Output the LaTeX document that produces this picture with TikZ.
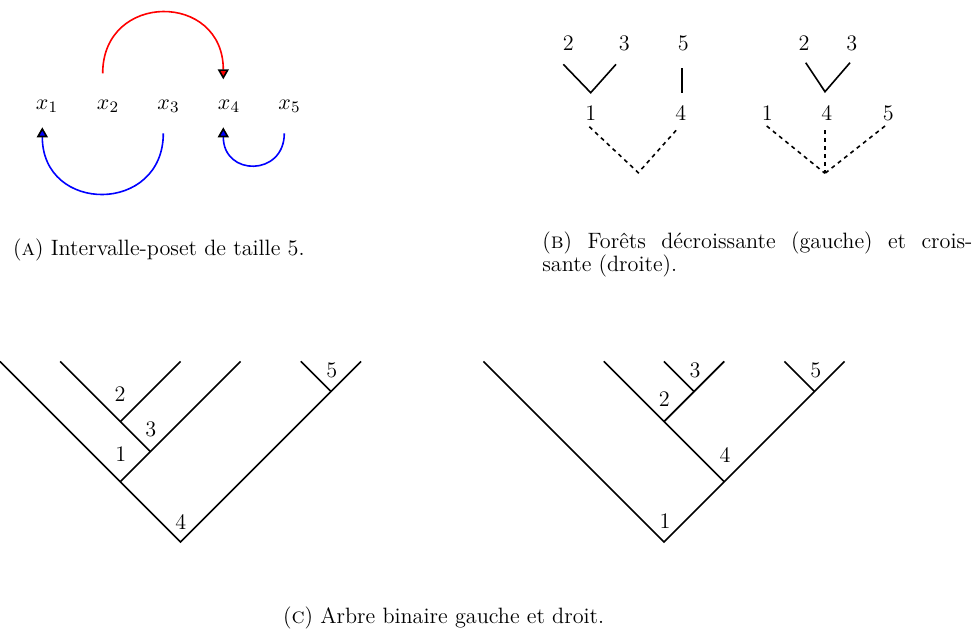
\documentclass[tikz,border=0pt]{standalone}
\usetikzlibrary{arrows.meta}
\begin{document}
\begin{tikzpicture}[x=0.5pt,y=-0.5pt,
  every node/.style={font=\fontsize{11.1pt}{11.65pt}\selectfont},
  lbl/.style={inner sep=0pt},
  edge/.style={line width=0.8pt},
  dedge/.style={line width=0.8pt, dash pattern=on 2pt off 2pt},
  redarc/.style={line width=0.8pt, red, -{Triangle[length=5pt,width=5.5pt,color=black,fill=red]}},
  bluearc/.style={line width=0.8pt, blue, -{Triangle[length=5pt,width=5.5pt,color=black,fill=blue]}},
  captxt/.style={inner sep=0pt, anchor=base west}]
\useasboundingbox (0,0) rectangle (974,629);

% ---------- Panel A ----------
\node[lbl, anchor=base] (x1) at (47,109.5) {$x_1$};
\node[lbl, anchor=base] (x2) at (108,109.5) {$x_2$};
\node[lbl, anchor=base] (x3) at (168.5,109.5) {$x_3$};
\node[lbl, anchor=base] (x4) at (229,109.5) {$x_4$};
\node[lbl, anchor=base] (x5) at (289.5,109.5) {$x_5$};
\coordinate (r2) at (102.7,73.3);
\coordinate (r4) at (223.3,79.3);
\coordinate (b3) at (163.3,133.3);
\coordinate (b1) at (42.3,127.3);
\coordinate (b5) at (284.3,133.3);
\coordinate (b4) at (223.3,127.3);
\draw[redarc] (r2) .. controls +(0,-81.8) and +(0,-87.8) .. (r4);
\draw[bluearc] (b3) .. controls +(0,81) and +(0,87) .. (b1);
\draw[bluearc] (b5) .. controls +(0,43.3) and +(0,49.3) .. (b4);

\node[captxt] (capA) at (12.7,255) {(\textsc{a}) Intervalle-poset de taille 5.};

% ---------- Panel B ----------
\node[lbl] (fl2) at (568.3,43.3) {2};
\node[lbl] (fl3) at (624.3,43.3) {3};
\node[lbl] (fl5) at (683.3,43.3) {5};
\node[lbl] (fl1) at (590.7,113.3) {1};
\node[lbl] (fl4) at (680.7,113.3) {4};
\coordinate (fla) at (563.3,64.3);
\coordinate (flb) at (590.7,92.7);
\coordinate (flc) at (616,64.3);
\coordinate (fld) at (681.7,68.3);
\coordinate (fle) at (681.7,93.3);
\coordinate (flf) at (589.3,126.7);
\coordinate (flg) at (638.3,172.7);
\coordinate (flh) at (677.3,129);
\draw[edge] (fla) -- (flb) -- (flc);
\draw[edge] (fld) -- (fle);
\draw[dedge] (flf) -- (flg) -- (flh);

\node[lbl] (fr2) at (804,43.3) {2};
\node[lbl] (fr3) at (851.7,43.3) {3};
\node[lbl] (fr1) at (767.3,113.3) {1};
\node[lbl] (fr4) at (826.7,113.3) {4};
\node[lbl] (fr5) at (888.3,113.3) {5};
\coordinate (fra) at (805.7,62.7);
\coordinate (frb) at (825,91.7);
\coordinate (frc) at (850,62.7);
\coordinate (frd) at (766.7,126);
\coordinate (fre) at (825,130);
\coordinate (frf) at (885,126);
\coordinate (frg) at (825,173.3);
\draw[edge] (fra) -- (frb) -- (frc);
\draw[dedge] (frd) -- (frg);
\draw[dedge] (fre) -- (frg);
\draw[dedge] (frf) -- (frg);

\node[captxt] (capB) at (542,248.3)
  {\parbox[t]{215pt}{(\textsc{b}) Forêts décroissante (gauche) et crois-\linebreak sante (droite).}};

% ---------- Panel C, left tree ----------
\coordinate (R) at (180.5,542);
\coordinate (A1) at (120.3,481.8);
\coordinate (A3) at (150.4,451.7);
\coordinate (A2) at (120.3,421.6);
\coordinate (A5) at (330.9,391.5);
\coordinate (L0) at (0,361.4);
\coordinate (L1) at (60.2,361.4);
\coordinate (L2) at (180.5,361.4);
\coordinate (L3) at (240.6,361.4);
\coordinate (L4) at (300.8,361.4);
\coordinate (L5) at (361,361.4);
\draw[edge] (L0) -- (R) -- (L5);
\draw[edge] (A1) -- (L3);
\draw[edge] (A3) -- (L1);
\draw[edge] (A2) -- (L2);
\draw[edge] (A5) -- (L4);
\node[lbl] (tl4) at (180.7,521.7) {4};
\node[lbl] (tl1) at (120.7,454) {1};
\node[lbl] (tl3) at (150.7,429.3) {3};
\node[lbl] (tl2) at (120,394.3) {2};
\node[lbl] (tl5) at (331.7,370) {5};

% ---------- Panel C, right tree ----------
\coordinate (Q) at (664,542);
\coordinate (B4) at (724.2,481.8);
\coordinate (B2) at (664,421.6);
\coordinate (B3) at (694.1,391.5);
\coordinate (B5) at (814.5,391.5);
\coordinate (M0) at (483.4,361.4);
\coordinate (M1) at (603.8,361.4);
\coordinate (M2) at (664,361.4);
\coordinate (M3) at (724.2,361.4);
\coordinate (M4) at (784.4,361.4);
\coordinate (M5) at (844.6,361.4);
\draw[edge] (M0) -- (Q) -- (M5);
\draw[edge] (B4) -- (M1);
\draw[edge] (B2) -- (M3);
\draw[edge] (B3) -- (M2);
\draw[edge] (B5) -- (M4);
\node[lbl] (tr1) at (665,520.7) {1};
\node[lbl] (tr4) at (725,455) {4};
\node[lbl] (tr2) at (664.3,399.3) {2};
\node[lbl] (tr3) at (695,370) {3};
\node[lbl] (tr5) at (815.7,370) {5};

\node[captxt] (capC) at (282.7,623.3) {(\textsc{c}) Arbre binaire gauche et droit.};
\end{tikzpicture}
\end{document}
